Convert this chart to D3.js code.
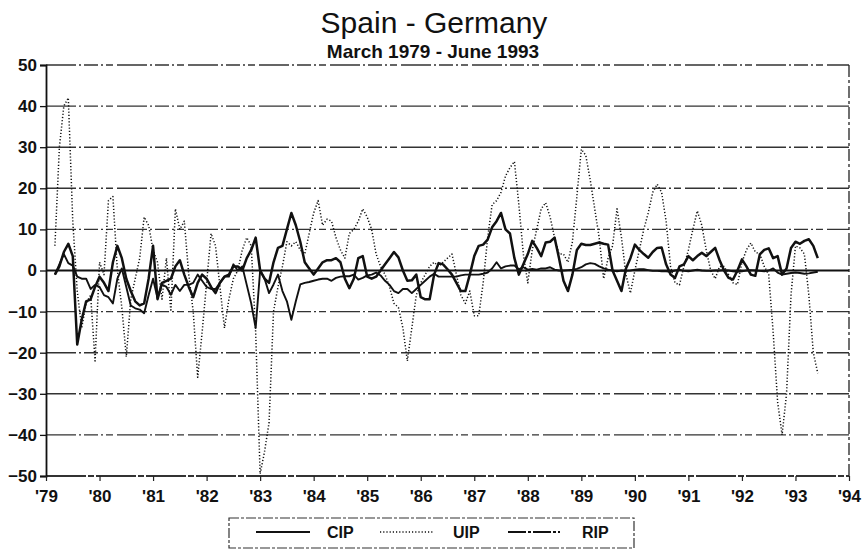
<!DOCTYPE html>
<html>
<head>
<meta charset="utf-8">
<script src="https://cdn.jsdelivr.net/npm/d3@7"></script>
<style>
  html, body { margin: 0; padding: 0; background: #fff; }
  svg { display: block; }
  text { font-family: "Liberation Sans", Arial, Helvetica, sans-serif; fill: #111; }
</style>
</head>
<body>
<svg id="chart" width="865" height="550"></svg>
<script>
// ---- Data (monthly, March 1979 - June 1993) ----
const startYear = 1979;
const startMonth = 3; // March
const seriesNames = ["CIP", "UIP", "RIP"];
const yTicks = [-50, -40, -30, -20, -10, 0, 10, 20, 30, 40, 50];
const xTickYears = [1979,1980,1981,1982,1983,1984,1985,1986,1987,1988,1989,1990,1991,1992,1993,1994];
const xTickLabels = ["'79","'80","'81","'82","'83","'84","'85","'86","'87","'88","'89","'90","'91","'92","'93","'94"];

const uip = [6,30,40,42,12,-5,-14,-8,-6,-22,
  2,-1,17,18,0,-9,-21,-7,-2,3,
  13,11,5,2,-7,3,-10,15,10,12,
  -1,-10,-26,-15,-3,9,6,-4,-14,-7,
  -2,0,5,8,6,-15,-49.5,-44,-37,-10,
  -4,1,7,6,7,5,4,9,14,17,
  11,12.5,12,8,5,3,9,10,12,15,
  13,10,4,1,-1,-4,-8,-9,-14,-22,
  -14,-6,-3,-1,1,2,1,2,3,4,
  -1,-6,-8,-5,-11,-11,-3,8,16,17,
  19,23,25,26.5,16,4,-3,5,10,15,
  16.5,13,8,4,4,2,7,18,29.5,28,
  22,15,8,-2,3,6,15,8,-1,-5.5,
  0,5,10,14,19,21,19,12,1,-3,
  -3.5,1,5,10,14.5,11,5,0,-2,1,
  1,-1,-3,-3.4,2,5,6.7,4.5,4,1,
  -1,-15,-32,-40,-30,-6,6,5.5,4,-6,
  -20,-25];

const rip = [-1,1,4.5,6.5,3.5,-18,-12,-7.5,-7,-4,
  -1.5,-3,-5,2,6,3,-2,-5,-7.5,-8.5,
  -8,-2,6,-7,-3,-2.5,-2,1,2.5,-1,
  -4,-6.5,-3,-1,-2,-4,-5.5,-3,-1.5,-1,
  1,1,0,3,5,8,0,-2,-3,2,
  5.5,6,10,14,11,7,2,0.5,-1,0.5,
  2,2.5,2.5,3,2,-2,-4.3,-2,3,3.5,
  -1.5,-2,-1.5,0,1.5,3,4.5,3.2,0,-2.5,
  -2.4,-1,-6.5,-7,-7,-1,1.8,1.5,0.3,-1,
  -3,-5,-5,-1,3.5,6,6.3,7.5,10.5,12,
  14,10,9,3,-1,1.5,4,7.2,5.5,3.5,
  6.8,7,8,3,-2.5,-5,-1,5,6.5,6.2,
  6.2,6.5,6.8,6.5,6.3,0,-2.5,-5,0.5,3,
  6.3,5,4,3.1,4.5,5.5,5.6,1.5,-1,-1.8,
  1,1.5,3.5,2.5,3.5,4.3,3.5,4.5,5.5,2.5,
  0,-1.8,-2.2,0,2.7,1,-1,-1.3,3.9,5,
  5.4,3,3.5,-1,0.5,5.5,7,6.5,7.2,7.6,
  6,3];

const cip = [-1,1.5,4,1.8,1.2,-1.5,-2,-2,-4.5,-3.5,
  -4,-6,-6.5,-8,-2,0.5,-4,-8.5,-9.2,-9.5,
  -10.4,-6,-2,-6.7,-3.4,-4,-5.9,-3.5,-5,-3.5,
  -3.5,-3,-1,-2.5,-4,-4.5,-4.5,-3,-1.5,-1.5,
  1.5,0,1,-3.5,-8,-14,0,-2,-5.5,-3.4,
  -1,-5,-7.5,-12,-7.5,-3.4,-3,-2.8,-2.5,-2.2,
  -2,-2,-2.5,-1.8,-1.5,-1.4,-1.4,-1,-2.2,-1.8,
  -1.2,-1,-0.5,-1.2,-2.5,-3.5,-5,-5.5,-4.5,-4.5,
  -5.5,-4.5,-3.5,-2.5,-1.5,-0.8,-1.5,-1.5,-1.5,-1.5,
  -1.5,-1.2,-1,-1,-1,-1,-0.8,-0.5,0.5,2,
  0.5,1,1.2,1.2,0.3,0.8,0.2,0.4,0.2,0.5,
  0.5,0.8,0.2,0,0,0.1,0.2,0.4,0.8,1.5,
  1.8,1.6,1,0.5,0.2,0,-0.2,0,-0.1,0,
  0.2,0.3,0.3,0.1,-0.1,-0.1,-0.2,-0.2,-0.3,0,
  0.2,-0.1,-0.2,0,0.2,0,-0.1,-0.1,0,0,
  0.1,0,-0.2,-0.3,-0.2,0,0.1,0,-0.1,-0.2,
  0,0.5,-0.5,-1,-0.8,-0.6,-0.5,-0.6,-0.8,-0.7,
  -0.5,-0.3];

// ---- Setup ----
const svg = d3.select("#chart");
const plotLeft = 46, plotRight = 849, plotTop = 65, plotBottom = 476;

const x = d3.scaleLinear().domain([1979, 1994]).range([plotLeft, plotRight]);
const y = d3.scaleLinear().domain([-50, 50]).range([plotBottom, plotTop]);

const monthT = i => startYear + (startMonth - 1 + i) / 12;

// Title
svg.append("text").attr("x", 434).attr("y", 33).attr("text-anchor", "middle")
  .style("font-size", "30px").style("font-weight", "normal").text("Spain - Germany");
svg.append("text").attr("x", 433).attr("y", 58).attr("text-anchor", "middle")
  .style("font-size", "19px").style("font-weight", "bold").text("March 1979 - June 1993");

// Gridlines (scanned broken look)
const gridPattern = "30,3,2,3,14,3,2,3,7,4";
svg.append("g").selectAll("line").data(yTicks.filter(v => v !== 0)).join("line")
  .attr("x1", plotLeft).attr("x2", plotRight)
  .attr("y1", d => y(d)).attr("y2", d => y(d))
  .attr("stroke", "#333").attr("stroke-width", d => (d === -50 ? 1.8 : 1.4))
  .attr("stroke-dasharray", d => (d === -50 ? "40,2,6,2" : gridPattern));

// zero line
svg.append("line").attr("x1", plotLeft).attr("x2", plotRight).attr("y1", y(0)).attr("y2", y(0))
  .attr("stroke", "#111").attr("stroke-width", 1.8);

// right border
svg.append("line").attr("x1", plotRight).attr("x2", plotRight).attr("y1", plotTop).attr("y2", plotBottom)
  .attr("stroke", "#222").attr("stroke-width", 1.3).attr("stroke-dasharray", "12,3,3,3");

// Y axis
const yAxis = d3.axisLeft(y).tickValues(yTicks).tickSize(6).tickPadding(3).tickFormat(d3.format("d"));
const gy = svg.append("g").attr("transform", `translate(${plotLeft},0)`).call(yAxis);
gy.select(".domain").attr("stroke", "#111").attr("stroke-width", 1.8);
gy.selectAll(".tick line").attr("stroke", "#111").attr("stroke-width", 1.3);
gy.selectAll("text").style("font-size", "17px").style("font-weight", "bold")
  .style("font-family", "'Liberation Sans', Arial, sans-serif").attr("fill", "#111");

// X axis
const xAxis = d3.axisBottom(x).tickValues(xTickYears).tickSize(5).tickPadding(9)
  .tickFormat((d, i) => xTickLabels[i]);
const gx = svg.append("g").attr("transform", `translate(0,${plotBottom})`).call(xAxis);
gx.select(".domain").remove();
gx.selectAll(".tick line").attr("stroke", "#222").attr("stroke-width", 1.2);
gx.selectAll("text").style("font-size", "17px").style("font-weight", "bold")
  .style("font-family", "'Liberation Sans', Arial, sans-serif").attr("fill", "#111");

// Lines
const line = d3.line().x((d, i) => x(monthT(i))).y(d => y(d));
const styles = {
  CIP: { width: 1.9, dash: null },
  UIP: { width: 1.5, dash: "1.2,2" },
  RIP: { width: 2.5, dash: null }
};
const dataMap = { CIP: cip, UIP: uip, RIP: rip };

["UIP", "CIP", "RIP"].forEach(name => {
  svg.append("path").datum(dataMap[name])
    .attr("d", line)
    .attr("fill", "none")
    .attr("stroke", "#111")
    .attr("stroke-width", styles[name].width)
    .attr("stroke-linejoin", "round")
    .attr("stroke-dasharray", styles[name].dash);
});

// Legend
const lg = svg.append("g");
lg.append("rect").attr("x", 229).attr("y", 518).attr("width", 405).attr("height", 30)
  .attr("fill", "none").attr("stroke", "#333").attr("stroke-width", 1.2)
  .attr("stroke-dasharray", "10,2,3,2");
const legendItems = [
  { name: "CIP", x1: 256, x2: 310, tx: 327, dash: null, w: 1.8 },
  { name: "UIP", x1: 380, x2: 433, tx: 453, dash: "1.2,2", w: 1.4 },
  { name: "RIP", x1: 508, x2: 560, tx: 582, dash: "18,2,3,2", w: 1.8 }
];
legendItems.forEach(it => {
  lg.append("line").attr("x1", it.x1).attr("x2", it.x2).attr("y1", 532).attr("y2", 532)
    .attr("stroke", "#111").attr("stroke-width", it.w).attr("stroke-dasharray", it.dash);
  lg.append("text").attr("x", it.tx).attr("y", 538)
    .style("font-size", "16px").style("font-weight", "bold").text(it.name);
});
</script>
</body>
</html>
